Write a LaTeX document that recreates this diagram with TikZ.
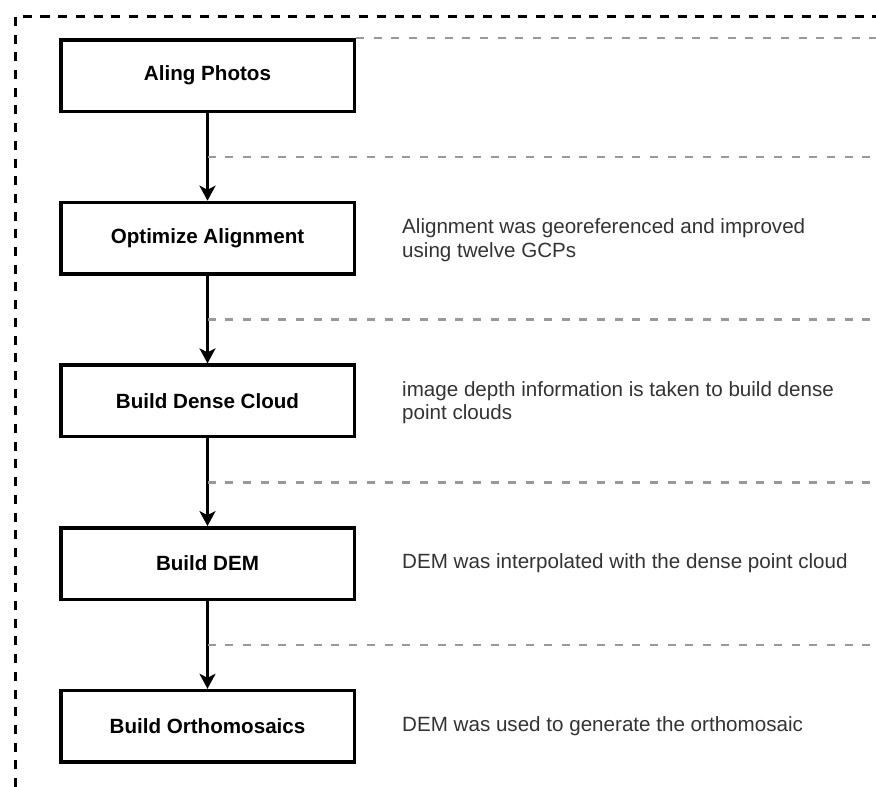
\documentclass[tikz,border=0pt]{standalone}
\usepackage{fontspec}
\setmainfont{Liberation Sans}
\usetikzlibrary{arrows.meta,positioning}

\begin{document}
\begin{tikzpicture}[x=1pt,y=1pt,>={Stealth[length=15pt,width=16pt,inset=4pt]},node distance=162.7pt]
   \tikzstyle{stage}=[draw,line width=3.5pt,minimum width=293.5pt,minimum height=71.5pt,font=\fontsize{20.6pt}{24pt}\selectfont\bfseries]
   \tikzstyle{note}=[inner sep=0pt,align=left,text=black!80,font=\fontsize{20.6pt}{23.5pt}\selectfont]
   \tikzstyle{flow}=[->,line width=2.6pt]
   \tikzstyle{guide}=[draw=black!40,line width=2.6pt,dash pattern=on 8pt off 9.7pt]
   \useasboundingbox (0,0) rectangle (876,-787);
   \draw[line width=3pt,dash pattern=on 9pt off 8.7pt] (15,-787) -- (15,-16) -- (876,-16);
   \coordinate (rim) at (876,0);

   \node[stage]   (align)  at (207.5,-75.5)  {Aling Photos};
   \node[stage]   (optim)  [below of=align]  {Optimize Alignment};
   \node[stage]   (dense)  [below of=optim]  {Build Dense Cloud};
   \node[stage]   (dem)    [below of=dense]  {Build DEM};
   \node[stage]   (ortho)  [below of=dem]    {Build Orthomosaics};

   \node[note]   (n-optim)  [right=46pt of optim,yshift=-2pt]  {Alignment was georeferenced and improved\\using twelve GCPs};
   \node[note]   (n-dense)  [right=46pt of dense,yshift=-2pt]  {image depth information is taken to build dense\\point clouds};
   \node[note]   (n-dem)    [right=46pt of dem]    {DEM was interpolated with the dense point cloud};
   \node[note]   (n-ortho)  [right=46pt of ortho]  {DEM was used to generate the orthomosaic};

   \path  
     (align)  edge  [flow]  coordinate (c1)  (optim)
     (optim)  edge  [flow]  coordinate (c2)  (dense)
     (dense)  edge  [flow]  coordinate (c3)  (dem)
     (dem)    edge  [flow]  coordinate (c4)  (ortho);

   % dashed separators out to the right edge
   \draw[guide] (align.north east) -- (align.north east -| rim);
   \foreach \c in {c1,c2,c3,c4}
     \draw[guide] (\c) -- (\c -| rim);
\end{tikzpicture}
\end{document}
